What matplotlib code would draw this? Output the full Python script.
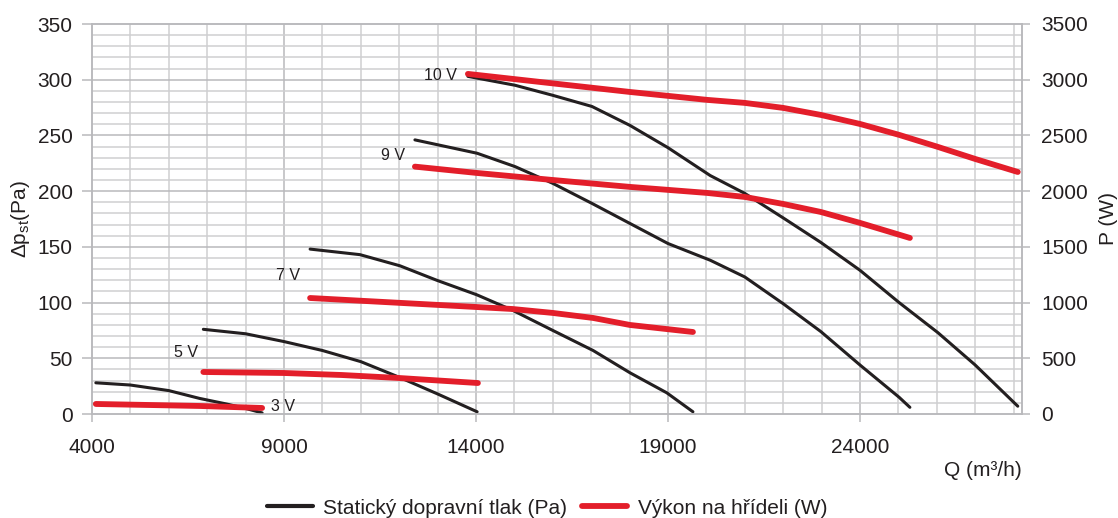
import matplotlib
matplotlib.use("Agg")
import matplotlib.pyplot as plt
from matplotlib.lines import Line2D

plt.rcParams['font.family'] = ['Liberation Sans', 'DejaVu Sans']
plt.rcParams['mathtext.fontset'] = 'custom'
plt.rcParams['mathtext.rm'] = 'Liberation Sans'
plt.rcParams['mathtext.it'] = 'Liberation Sans:italic'

# ---- data: static pressure (Pa) ----
q_3v_p = [4100, 5000, 6000, 6800, 7500, 8000, 8430]
p_3v = [28, 26, 21, 14, 9, 5, 1]
q_5v_p = [6900, 8000, 9000, 10000, 11000, 12000, 13000, 14030]
p_5v = [76, 72, 65, 57, 47, 33, 18, 2]
q_7v_p = [9680, 10980, 12020, 12980, 14020, 14960, 16000, 17050, 18010, 18970, 19650]
p_7v = [148, 143, 133, 120, 107, 93, 75, 57, 37, 19, 2]
q_9v_p = [12410, 14030, 15020, 16000, 17020, 18010, 19000, 20100, 21000, 22000, 22980, 24000, 25020, 25300]
p_9v = [246, 234, 222, 207, 189, 171, 153, 138, 123, 99, 74, 44, 15, 6]
q_10v_p = [13790, 15020, 16000, 17020, 18010, 19000, 20100, 21000, 22000, 22980, 24000, 25020, 26030, 27000, 28110]
p_10v = [303, 295, 286, 276, 259, 239, 214, 198, 176, 154, 129, 100, 73, 44, 7]

# ---- data: shaft power (W) ----
q_3v_w = [4100, 6810, 8430]
w_3v = [90, 72, 54]
q_5v_w = [6900, 9000, 10500, 12000, 14050]
w_5v = [377, 368, 350, 323, 278]
q_7v_w = [9680, 14020, 14960, 16000, 17050, 18010, 19650]
w_7v = [1041, 960, 942, 907, 862, 799, 736]
q_9v_w = [12410, 14030, 16000, 18010, 20020, 21000, 22000, 22980, 24000, 25300]
w_9v = [2220, 2163, 2100, 2038, 1984, 1948, 1885, 1813, 1715, 1580]
q_10v_w = [13790, 18010, 20020, 21000, 22000, 22980, 24000, 25020, 26030, 27000, 28110]
w_10v = [3052, 2890, 2819, 2792, 2747, 2684, 2603, 2505, 2397, 2289, 2172]

speed_labels = ["3 V", "5 V", "7 V", "9 V", "10 V"]
label_q = [8660, 6760, 9420, 12150, 13500]
label_p = [7, 55, 124, 232, 304]

x_ticks = [4000, 9000, 14000, 19000, 24000]
y_ticks = [0, 50, 100, 150, 200, 250, 300, 350]
y2_ticks = [0, 500, 1000, 1500, 2000, 2500, 3000, 3500]

BLACK = '#231f20'
RED = '#e31e2a'
GRID = '#cfcfd1'
GRID_MAJOR = '#b9b9bc'
TXT = '#231f20'
FS = 15

fig = plt.figure(figsize=(11.18, 5.18), dpi=100)
ax = fig.add_axes([92/1118, 1 - 414/518, (1022-92)/1118, (414-24)/518])
ax2 = ax.twinx()

ax.set_xlim(4000, 28220)
ax.set_ylim(0, 350)
ax2.set_ylim(0, 3500)

# grid
for xv in range(5000, 28001, 1000):
    ax.axvline(xv, color=GRID_MAJOR if (xv - 4000) % 5000 == 0 else GRID, lw=1.1, zorder=0)
for yv in range(10, 350, 10):
    ax.axhline(yv, color=GRID_MAJOR if yv % 50 == 0 else GRID, lw=1.1, zorder=0)

for a in (ax, ax2):
    for s in a.spines.values():
        s.set_color(GRID_MAJOR)
        s.set_linewidth(1.1)

lw_b = 2.2
lw_r = 4.2
for q, p in [(q_3v_p, p_3v), (q_5v_p, p_5v), (q_7v_p, p_7v), (q_9v_p, p_9v), (q_10v_p, p_10v)]:
    ax.plot(q, p, color=BLACK, lw=lw_b, solid_capstyle='round', solid_joinstyle='round', zorder=3)
for q, w in [(q_3v_w, w_3v), (q_5v_w, w_5v), (q_7v_w, w_7v), (q_9v_w, w_9v), (q_10v_w, w_10v)]:
    ax2.plot(q, w, color=RED, lw=lw_r, solid_capstyle='round', solid_joinstyle='round', zorder=4)

for lab, lq, lp in zip(speed_labels, label_q, label_p):
    ha = 'left' if lab == "3 V" else 'right'
    ax.text(lq, lp, lab, ha=ha, va='center', fontsize=11.5, color=TXT, zorder=5)

ax.set_xticks(x_ticks)
ax.set_xticklabels([str(v) for v in x_ticks])
ax.set_yticks(y_ticks)
ax2.set_yticks(y2_ticks)
ax.tick_params(axis='x', length=6, width=1.1, color=GRID_MAJOR, pad=11, labelsize=FS, labelcolor=TXT)
ax.tick_params(axis='y', length=7, width=1.1, color=GRID_MAJOR, pad=7, labelsize=FS, labelcolor=TXT)
ax2.tick_params(axis='y', length=6, width=1.1, color=GRID_MAJOR, pad=8, labelsize=FS, labelcolor=TXT)

ax.set_ylabel(r"Δp$_{\mathrm{st}}$(Pa)", fontsize=FS, color=TXT, labelpad=4)
ax2.set_ylabel("P (W)", fontsize=FS, color=TXT, labelpad=8)
ax.text(1.0, -0.145, "Q (m³/h)", transform=ax.transAxes, ha='right', va='center', fontsize=FS, color=TXT)

handles = [Line2D([], [], color=BLACK, lw=3.0, solid_capstyle='round'),
           Line2D([], [], color=RED, lw=4.2, solid_capstyle='round')]
fig.legend(handles, ["Statický dopravní tlak (Pa)", "Výkon na hřídeli (W)"],
           loc='center', bbox_to_anchor=(547/1118, 1 - 508/518), ncol=2, frameon=False,
           fontsize=FS, handlelength=2.2, handletextpad=0.5, columnspacing=0.7,
           labelcolor=TXT)

fig.savefig("out.png", dpi=100)
